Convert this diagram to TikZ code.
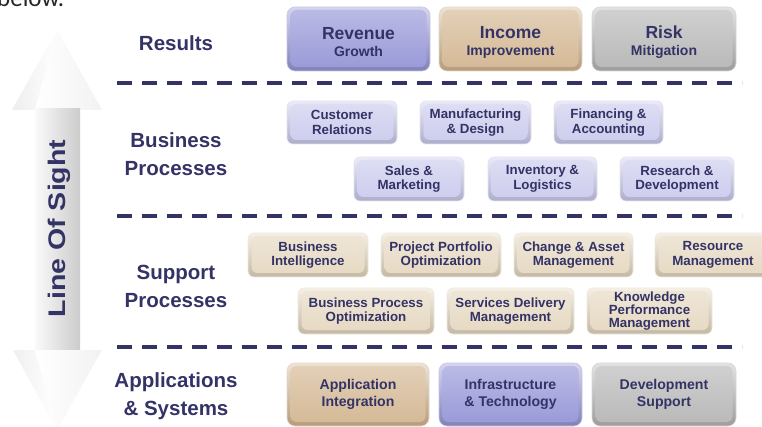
\documentclass[tikz,border=0pt]{standalone}
\usepackage{fontspec}
\setmainfont{Liberation Sans}
\newfontfamily\calibri{Carlito}
\usetikzlibrary{calc}
\definecolor{navy}{RGB}{51,51,102}
\definecolor{purpleC}{RGB}{152,152,216}
\definecolor{tanC}{RGB}{212,184,148}
\definecolor{grayC}{RGB}{184,184,184}
\definecolor{lavC}{RGB}{204,204,238}
\definecolor{beigeC}{RGB}{230,217,194}
\tikzset{
  bevel/.style={rounded corners=8pt, draw=#1!55!white, line width=0.6pt,
    top color=#1!40!white, bottom color=#1!85!black,
    path picture={\shade[top color=#1!65!white, bottom color=#1, rounded corners=6pt]
      ([shift={(3.5pt,-3pt)}]path picture bounding box.north west) rectangle
      ([shift={(-3.5pt,4pt)}]path picture bounding box.south east);},
    text=navy, align=center, inner sep=0pt, font=\bfseries},
  bigbox/.style={bevel=#1},
  smallbox/.style={bevel=#1, rounded corners=6pt, font=\bfseries\fontsize{13.3}{14.6}\selectfont},
  appbox/.style={bevel=#1, font=\bfseries\fontsize{14.1}{16.7}\selectfont},
  layerlabel/.style={text=navy, align=center, font=\bfseries\fontsize{20.5}{28}\selectfont},
  sep/.style={navy, line width=4pt, dash pattern=on 15pt off 10pt},
}
\newcommand{\twoline}[2]{{\fontsize{17.5}{19}\selectfont\rule{0pt}{19pt}#1}\\[5pt]{\fontsize{14}{15}\selectfont #2}}
\begin{document}
\begin{tikzpicture}[x=1pt,y=-1pt]
\useasboundingbox (0,0) rectangle (762,427);
\clip (0,0) rectangle (762,427);
\fill[white] (0,0) rectangle (762,427);
% partial heading text
\node[anchor=base west, inner sep=0pt, text=black!85, font=\calibri\fontsize{25}{25}\selectfont] (below) at (-3,7) {below.};
% Line of sight arrow
\shade[left color=gray!14, right color=white] (57,30) -- (35,110) -- (12,110) -- cycle;
\shade[left color=white, right color=gray!10] (57,30) -- (102,110) -- (35,110) -- cycle;
\shade[left color=white!96!gray, middle color=white, right color=gray!40] (35,109) rectangle (80,351);
\shade[left color=gray!12, right color=white] (57,430) -- (35,350) -- (13,350) -- cycle;
\shade[left color=white, right color=gray!10] (57,430) -- (102,350) -- (35,350) -- cycle;
\node[rotate=90, text=navy, font=\bfseries\fontsize{24}{24}\selectfont] (los) at (59,228.5) {\scalebox{1.19}[1]{Line Of Sight}};
% separators
\coordinate (s1a) at (117,83);  \coordinate (s1b) at (742,83);
\coordinate (s2a) at (117,216); \coordinate (s2b) at (742,216);
\coordinate (s3a) at (117,347); \coordinate (s3b) at (742,347);
\draw[sep] (s1a) -- (s1b);
\draw[sep] (s2a) -- (s2b);
\draw[sep] (s3a) -- (s3b);
% layer labels
\node[layerlabel] (lres) at (176,43) {Results};
\node[layerlabel] (lbp) at (176,154) {Business\\Processes};
\node[layerlabel] (lsp) at (176,286) {Support\\Processes};
\node[layerlabel] (las) at (176,396) {Applications\\\&~Systems};
% results
\node[bigbox=purpleC, minimum width=143, minimum height=64] (rev) at (358.5,39) {\twoline{Revenue}{Growth}};
\node[bigbox=tanC, minimum width=143, minimum height=64] (inc) at (510.5,39) {\twoline{Income}{Improvement}};
\node[bigbox=grayC, minimum width=144, minimum height=64] (risk) at (664,39) {\twoline{Risk}{Mitigation}};
% business processes
\node[smallbox=lavC, minimum width=110, minimum height=43] (cr) at (342,122.5) {Customer\\Relations};
\node[smallbox=lavC, minimum width=111, minimum height=43] (md) at (475.5,122.5) {Manufacturing\\\&~Design};
\node[smallbox=lavC, minimum width=109, minimum height=43] (fa) at (608.5,122.5) {Financing \&\\Accounting};
\node[smallbox=lavC, minimum width=110, minimum height=44] (sm) at (409,179) {Sales \&\\Marketing};
\node[smallbox=lavC, minimum width=109, minimum height=44] (il) at (542.5,179) {Inventory \&\\Logistics};
\node[smallbox=lavC, minimum width=114, minimum height=44] (rd) at (677,179) {Research \&\\Development};
% support processes
\node[smallbox=beigeC, minimum width=120, minimum height=44] (bi) at (308,255) {Business\\Intelligence};
\node[smallbox=beigeC, minimum width=120, minimum height=44] (ppo) at (441,255) {Project Portfolio\\Optimization};
\node[smallbox=beigeC, minimum width=119, minimum height=44] (cam) at (573.5,255) {Change \& Asset\\Management};
\node[smallbox=beigeC, minimum width=116, minimum height=44] (rm) at (713,255) {Resource\\Management};
\node[smallbox=beigeC, minimum width=136, minimum height=46] (bpo) at (366,311) {Business Process\\Optimization};
\node[smallbox=beigeC, minimum width=127, minimum height=46] (sdm) at (510.5,311) {Services Delivery\\Management};
\node[smallbox=beigeC, minimum width=125, minimum height=46, font=\bfseries\fontsize{13.3}{12.6}\selectfont] (kpm) at (649.5,311) {Knowledge\\Performance\\Management};
% applications
\node[appbox=tanC, minimum width=142, minimum height=63] (ai) at (358,394.5) {Application\\Integration};
\node[appbox=purpleC, minimum width=143, minimum height=63] (it) at (510.5,394.5) {Infrastructure\\\&~Technology};
\node[appbox=grayC, minimum width=144, minimum height=63] (ds) at (664,394.5) {Development\\Support};
\end{tikzpicture}
\end{document}
